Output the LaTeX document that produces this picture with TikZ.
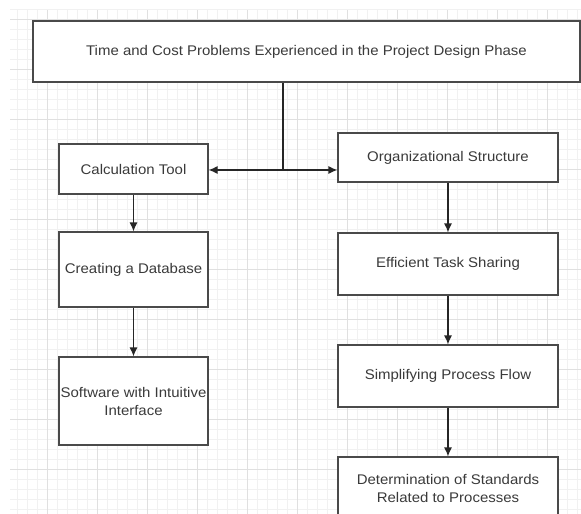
\documentclass[tikz,border=0pt]{standalone}
\usepackage{fontspec}
\setsansfont[FakeStretch=1.07]{Liberation Sans}
\usepackage{xcolor}
\usetikzlibrary{arrows.meta}
\usetikzlibrary{math}

\definecolor{gridminor}{HTML}{F1F1F1}
\definecolor{gridmajor}{HTML}{E0E0E0}
\definecolor{boxline}{HTML}{4A4A4A}
\definecolor{boxtext}{HTML}{3A3A3A}

\tikzset{
  box/.style={draw=boxline, line width=1.2pt, fill=white, text=boxtext,
    align=center, inner sep=1pt,
    font=\sffamily\fontsize{14}{18}\selectfont},
  link/.style={draw=black!85, line width=1.2pt, -{Latex[length=9pt,width=8pt]}}
}

\begin{document}
\begin{tikzpicture}[x=1pt, y=-1pt]
\tikzmath{
\lw=149; \rw=220;
\lx=133.5; \rx=448;
}

\clip (0,0) rectangle (581,514);
\fill[white] (0,0) rectangle (581,514);

% background grid
\foreach \gx in {17,27,...,581} \draw[gridminor, line width=0.6pt] (\gx,10) -- (\gx,514);
\foreach \gy in {9,19,...,514} \draw[gridminor, line width=0.6pt] (10,\gy) -- (581,\gy);
\foreach \gx in {47,97,...,581} \draw[gridmajor, line width=0.8pt] (\gx,10) -- (\gx,514);
\foreach \gy in {19,69,...,514} \draw[gridmajor, line width=0.8pt] (10,\gy) -- (581,\gy);

\node[box, minimum width=547, minimum height=61] (top) at (306.5,51.5)
  {Time and Cost Problems Experienced in the Project Design Phase};

% left column
\node[box, minimum width=\lw, minimum height=50] (calc) at (\lx,169) {Calculation Tool};
\node[box, minimum width=\lw, minimum height=75] (db) at (\lx,269.5) {Creating a Database};
\node[box, minimum width=\lw, minimum height=88] (soft) at (\lx,401)
  {Software with Intuitive\\Interface};

% right column
\node[box, minimum width=\rw, minimum height=49] (org) at (\rx,157.5) {Organizational Structure};
\node[box, minimum width=\rw, minimum height=62] (task) at (\rx,264) {Efficient Task Sharing};
\node[box, minimum width=\rw, minimum height=62] (flow) at (\rx,376) {Simplifying Process Flow};
\node[box, minimum width=\rw, minimum height=62] (std) at (\rx,488)
  {Determination of Standards\\Related to Processes};

\coordinate (j) at (283,170);
\draw[link, -] (j |- top.south) -- (j);
\draw[link] (j) -- (calc.east |- j);
\draw[link] (j) -- (org.west |- j);

\draw[link] (calc) -- (db);
\draw[link] (db) -- (soft);
\draw[link] (org) -- (task);
\draw[link] (task) -- (flow);
\draw[link] (flow) -- (std);
\end{tikzpicture}
\end{document}
